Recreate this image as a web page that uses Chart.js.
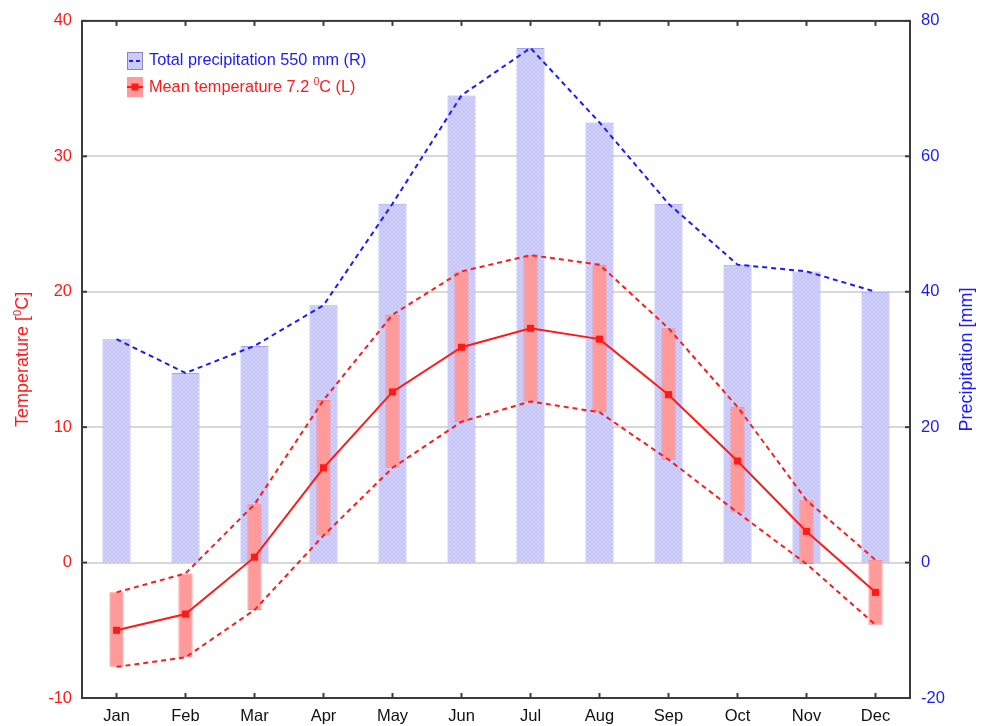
<!DOCTYPE html>
<html>
<head>
<meta charset="utf-8">
<script src="https://cdn.jsdelivr.net/npm/chart.js@4"></script>
<style>
  html, body { margin: 0; padding: 0; background: #ffffff; }
  #wrap { width: 984px; height: 726px; }
</style>
</head>
<body>
<div id="wrap"><canvas id="climate" width="984" height="726"></canvas></div>
<script>
// Monthly climate normals
const months = ['Jan', 'Feb', 'Mar', 'Apr', 'May', 'Jun', 'Jul', 'Aug', 'Sep', 'Oct', 'Nov', 'Dec'];
const precipitation = [33, 28, 32, 38, 53, 69, 76, 65, 53, 44, 43, 40];           // mm
const tempMean = [-5.0, -3.8, 0.4, 7.0, 12.6, 15.9, 17.3, 16.5, 12.4, 7.5, 2.3, -2.2]; // °C
const tempMax  = [-2.2, -0.8, 4.3, 12.0, 18.3, 21.5, 22.7, 22.0, 17.3, 11.5, 4.6, 0.2];
const tempMin  = [-7.7, -7.0, -3.5, 2.0, 7.0, 10.4, 11.9, 11.1, 7.6, 3.7, -0.1, -4.6];

// Axis ranges
const tempAxis = { min: -10, max: 40, step: 10 };
const precAxis = { min: -20, max: 80, step: 20 };

// Legend and axis captions (the "0" in each is set as a superscript degree mark)
const precLegend = [{ t: 'Total precipitation 550 mm (R)' }];
const tempLegend = [{ t: 'Mean temperature 7.2 ' }, { t: '0', sup: true }, { t: 'C (L)' }];
const tempTitle = [{ t: 'Temperature [' }, { t: '0', sup: true }, { t: 'C]' }];
const precTitle = [{ t: 'Precipitation [mm]' }];

const FONT = '"Liberation Sans", Arial, Helvetica, sans-serif';
const RED = '#ff1a1a';
const BLUE = '#1a1aff';
const AXIS = '#3c3c3c';

// Fine cross-hatch fill for the precipitation bars
function hatch() {
  const c = document.createElement('canvas');
  c.width = 4; c.height = 4;
  const g = c.getContext('2d');
  g.fillStyle = '#d4d4ff';
  g.fillRect(0, 0, 4, 4);
  g.fillStyle = '#c2c2f8';
  for (let i = 0; i < 4; i++) {
    g.fillRect(i, i, 1, 1);
    g.fillRect(3 - i, i, 1, 1);
  }
  return g.createPattern(c, 'repeat');
}
const precFill = hatch();

// Text with optional superscript runs
function richWidth(ctx, parts, size) {
  let w = 0;
  parts.forEach(p => {
    ctx.font = (p.sup ? size * 0.62 : size) + 'px ' + FONT;
    w += ctx.measureText(p.t).width;
  });
  return w;
}
function drawRich(ctx, parts, x, y, size, color) {
  ctx.fillStyle = color;
  ctx.textBaseline = 'alphabetic';
  ctx.textAlign = 'left';
  let cx = x;
  parts.forEach(p => {
    ctx.font = (p.sup ? size * 0.62 : size) + 'px ' + FONT;
    ctx.fillText(p.t, cx, p.sup ? y - size * 0.42 : y);
    cx += ctx.measureText(p.t).width;
  });
}

const decor = {
  id: 'decor',
  afterDatasetsDraw(chart) {
    const { ctx, chartArea: a, scales } = chart;
    ctx.save();
    ctx.strokeStyle = AXIS;
    ctx.lineWidth = 2;
    ctx.setLineDash([]);
    const seg = (x1, y1, x2, y2) => { ctx.beginPath(); ctx.moveTo(x1, y1); ctx.lineTo(x2, y2); ctx.stroke(); };
    scales.y.ticks.forEach(t => { const p = scales.y.getPixelForValue(t.value); seg(a.left, p, a.left + 5, p); });
    scales.y1.ticks.forEach(t => { const p = scales.y1.getPixelForValue(t.value); seg(a.right - 5, p, a.right, p); });
    months.forEach((m, i) => {
      const p = scales.x.getPixelForTick(i);
      seg(p, a.bottom, p, a.bottom - 5);
      seg(p, a.top, p, a.top + 5);
    });
    ctx.strokeRect(a.left, a.top, a.right - a.left, a.bottom - a.top);
    ctx.restore();
  },
  afterDraw(chart) {
    const { ctx, chartArea: a } = chart;
    const midY = (a.top + a.bottom) / 2;
    const tsize = 18;
    ctx.save();
    // left axis title
    ctx.save();
    ctx.translate(22, midY);
    ctx.rotate(-Math.PI / 2);
    let w = richWidth(ctx, tempTitle, tsize);
    drawRich(ctx, tempTitle, -w / 2, tsize * 0.36, tsize, RED);
    ctx.restore();
    // right axis title
    ctx.save();
    ctx.translate(966, midY);
    ctx.rotate(-Math.PI / 2);
    w = richWidth(ctx, precTitle, tsize);
    drawRich(ctx, precTitle, -w / 2, tsize * 0.36, tsize, BLUE);
    ctx.restore();

    // legend
    const lx = 127, lw = 16;
    // precipitation entry
    ctx.fillStyle = precFill;
    ctx.fillRect(lx, 52, lw, 18);
    ctx.strokeStyle = '#8a84b8';
    ctx.lineWidth = 1;
    ctx.strokeRect(lx + 0.5, 52.5, lw - 1, 17);
    ctx.strokeStyle = BLUE;
    ctx.lineWidth = 2;
    ctx.setLineDash([4, 3]);
    ctx.beginPath(); ctx.moveTo(lx + 2, 61); ctx.lineTo(lx + lw - 1, 61); ctx.stroke();
    ctx.setLineDash([]);
    drawRich(ctx, precLegend, 149, 65, 16.3, BLUE);
    // temperature entry
    ctx.fillStyle = '#ff9a9a';
    ctx.fillRect(lx, 77, lw, 20);
    ctx.strokeStyle = RED;
    ctx.lineWidth = 2;
    ctx.beginPath(); ctx.moveTo(lx, 87); ctx.lineTo(lx + lw, 87); ctx.stroke();
    ctx.fillStyle = RED;
    ctx.fillRect(lx + lw / 2 - 3.5, 83.5, 7, 7);
    drawRich(ctx, tempLegend, 149, 92, 16.3, RED);
    ctx.restore();
  }
};

const tickFont = { family: FONT, size: 16.5 };

new Chart(document.getElementById('climate'), {
  data: {
    labels: months,
    datasets: [
      {
        type: 'line', label: 'Mean temperature', data: tempMean, yAxisID: 'y', order: 0,
        borderColor: RED, borderWidth: 2, backgroundColor: RED,
        pointStyle: 'rect', pointRadius: 5, pointBorderWidth: 0, tension: 0
      },
      {
        type: 'line', label: 'Max temperature', data: tempMax, yAxisID: 'y', order: 1,
        borderColor: RED, borderWidth: 2, borderDash: [5, 4], pointRadius: 0, tension: 0
      },
      {
        type: 'line', label: 'Min temperature', data: tempMin, yAxisID: 'y', order: 1,
        borderColor: RED, borderWidth: 2, borderDash: [5, 4], pointRadius: 0, tension: 0
      },
      {
        type: 'line', label: 'Precipitation', data: precipitation, yAxisID: 'y1', order: 1,
        borderColor: BLUE, borderWidth: 2, borderDash: [5, 4], pointRadius: 0, tension: 0
      },
      {
        type: 'bar', label: 'Temperature range', yAxisID: 'y', order: 2,
        data: months.map((m, i) => [tempMin[i], tempMax[i]]),
        backgroundColor: '#ff9a9a', borderColor: '#ff8080', borderWidth: 1, borderSkipped: false,
        grouped: false, categoryPercentage: 1, barPercentage: 0.205
      },
      {
        type: 'bar', label: 'Total precipitation', yAxisID: 'y1', order: 3,
        data: precipitation,
        backgroundColor: precFill, borderColor: '#a3a3f0', borderWidth: 1, borderSkipped: false,
        grouped: false, categoryPercentage: 1, barPercentage: 0.406
      }
    ]
  },
  options: {
    responsive: false,
    animation: false,
    devicePixelRatio: 1,
    layout: { padding: { top: 18, left: 0, right: 0, bottom: 0 } },
    plugins: { legend: { display: false }, tooltip: { enabled: false } },
    scales: {
      x: {
        type: 'category', position: 'bottom', offset: true,
        grid: { display: false, drawTicks: false },
        border: { display: false },
        ticks: { color: '#111111', font: tickFont, padding: 9, autoSkip: false, maxRotation: 0 },
        afterFit(s) { s.height = 28; }
      },
      y: {
        type: 'linear', position: 'left',
        min: tempAxis.min, max: tempAxis.max,
        grid: { color: '#d8d8d8', lineWidth: 2, drawTicks: false },
        border: { display: false },
        ticks: { stepSize: tempAxis.step, color: RED, font: tickFont, padding: 10 },
        afterFit(s) { s.width = 82; }
      },
      y1: {
        type: 'linear', position: 'right',
        min: precAxis.min, max: precAxis.max,
        grid: { display: false, drawTicks: false },
        border: { display: false },
        ticks: { stepSize: precAxis.step, color: BLUE, font: tickFont, padding: 11 },
        afterFit(s) { s.width = 74; }
      }
    }
  },
  plugins: [decor]
});
</script>
</body>
</html>
